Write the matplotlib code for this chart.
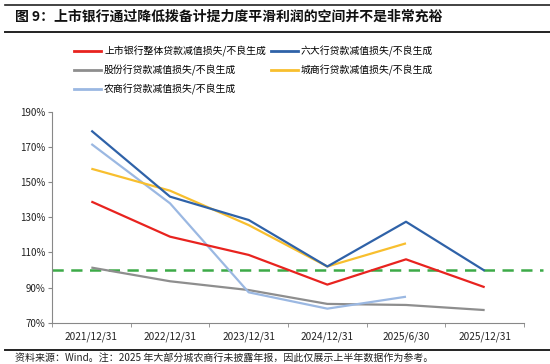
import numpy as np
import matplotlib
matplotlib.use("Agg")
import matplotlib.pyplot as plt
from matplotlib.lines import Line2D

plt.rcParams['font.family'] = ['Noto Sans CJK SC', 'DejaVu Sans']

categories = ["2021/12/31", "2022/12/31", "2023/12/31", "2024/12/31", "2025/6/30", "2025/12/31"]
listed_all = [139.0, 119.0, 108.6, 91.7, 106.1, 90.2]
big_six = [179.4, 141.8, 128.5, 102.0, 127.5, 99.6]
joint_stock = [101.4, 93.6, 88.6, 80.7, 80.1, 77.2]
city_comm = [157.7, 145.2, 125.6, 102.0, 115.2, np.nan]
rural_comm = [171.8, 138.0, 87.3, 78.0, 84.8, np.nan]
threshold = 100
yticks = [70, 90, 110, 130, 150, 170, 190]

labels = {
    "listed": "上市银行整体贷款减值损失/不良生成",
    "big": "六大行贷款减值损失/不良生成",
    "joint": "股份行贷款减值损失/不良生成",
    "city": "城商行贷款减值损失/不良生成",
    "rural": "农商行贷款减值损失/不良生成",
}
colors = {
    "listed": "#E8231F",
    "big": "#2F62A8",
    "joint": "#8E8E8E",
    "city": "#F8BF2E",
    "rural": "#9BB8E2",
}

fig = plt.figure(figsize=(5.5, 3.64), dpi=100)
ax = fig.add_axes([52/550, 1-322.7/364, 472/550, (322.7-112)/364])

x = np.arange(len(categories))
lw = 1.6
series = [("joint", joint_stock), ("rural", rural_comm), ("listed", listed_all),
          ("city", city_comm), ("big", big_six)]
for key, vals in series:
    ax.plot(x, vals, color=colors[key], lw=lw, solid_capstyle='butt')

ax.axhline(threshold, xmin=0.0, xmax=1.04, color="#3DAA48", lw=1.8,
           ls=(0, (4.5, 3)), clip_on=False, zorder=1)

ax.set_xlim(-0.5, len(categories) - 0.5)
ax.set_ylim(70, 190)
ax.set_yticks(yticks)
ax.set_yticklabels([f"{v}%" for v in yticks], fontsize=7, color="#222222")
ax.set_xticks(x)
ax.set_xticklabels(categories, fontsize=7.3, color="#222222")
ax.set_xticks(np.arange(-0.5, len(categories), 1.0), minor=True)
ax.tick_params(axis='x', which='major', length=0, pad=6)
ax.tick_params(axis='x', which='minor', length=3, direction='out', color="#888888")
ax.tick_params(axis='y', length=3, direction='out', color="#888888", pad=2)
for s in ['top', 'right']:
    ax.spines[s].set_visible(False)
for s in ['left', 'bottom']:
    ax.spines[s].set_color("#888888")
    ax.spines[s].set_linewidth(0.8)

order = ["listed", "joint", "rural", "big", "city"]
handles = [Line2D([], [], color=colors[k], lw=2) for k in order]
fig.legend(handles, [labels[k] for k in order], ncol=2, frameon=False,
           loc='upper left', bbox_to_anchor=(74/550, 1-45.5/364), fontsize=7.1,
           handlelength=2.7, handletextpad=0.35, columnspacing=0.5,
           labelspacing=0.8, borderaxespad=0, borderpad=0)

fig.text(15/550, 1-17/364, "图 9：上市银行通过降低拨备计提力度平滑利润的空间并不是非常充裕",
         fontsize=10, fontweight='bold', va='center', ha='left', color="#111111")
fig.add_artist(Line2D([5/550, 1], [1-4.5/364]*2, color="#222222", lw=1.2))
fig.add_artist(Line2D([5/550, 1], [1-31.5/364]*2, color="#222222", lw=1.4))
fig.add_artist(Line2D([5/550, 1], [1-350/364]*2, color="#222222", lw=1.4))
fig.text(15/550, 1-357.5/364, "资料来源：Wind。注：2025 年大部分城农商行未披露年报，因此仅展示上半年数据作为参考。",
         fontsize=7.2, va='center', ha='left', color="#222222")

fig.savefig("out.png", dpi=100)
